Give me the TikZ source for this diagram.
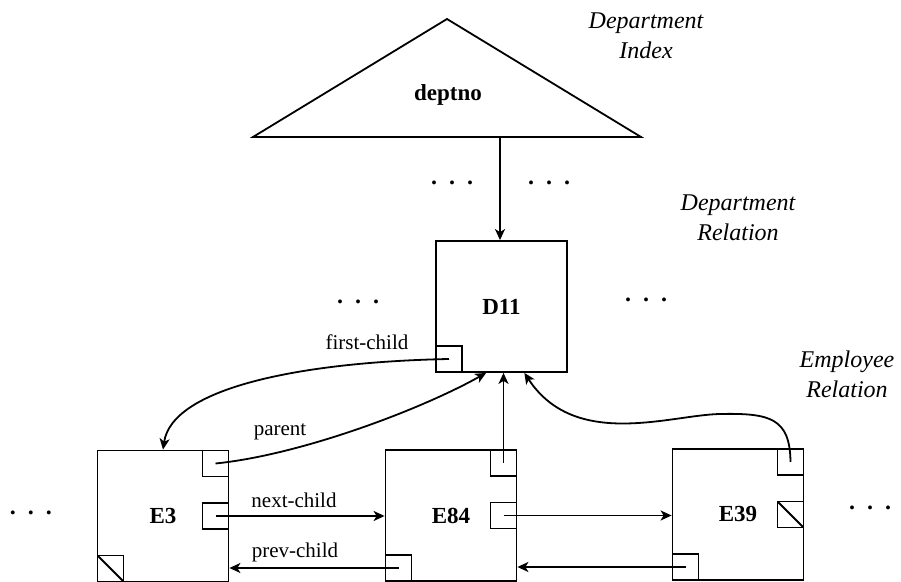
\documentclass[tikz,border=0pt]{standalone}
\usepackage{fontspec}
\setmainfont{Liberation Serif}
\usetikzlibrary{positioning, arrows.meta, calc}
\newcommand{\threedots}{.\hspace{6pt}.\hspace{6pt}.}

\begin{document}
\begin{tikzpicture}[
    x=0.5pt, y=-0.5pt,
    font=\fontsize{10.5}{12.6}\selectfont,
    line width=0.9pt,
    >={Stealth[length=5.5pt, width=5pt, inset=1.5pt]},
    record/.style={rectangle, draw, minimum width=65.5pt, minimum height=65.5pt, inner sep=0pt, font=\fontsize{11.5}{13}\selectfont\bfseries},
    slot/.style={rectangle, draw, minimum size=13pt, inner sep=0pt},
    nullslot/.style={slot, path picture={\draw (path picture bounding box.north west) -- (path picture bounding box.south east);}},
    caption/.style={align=center, font=\fontsize{12}{15}\selectfont\itshape},
    ellipsis/.style={anchor=base, inner sep=0pt, font=\fontsize{12}{14}\selectfont\bfseries},
    arrow/.style={->}
]
\useasboundingbox (0,0) rectangle (901,582);

% Index
\coordinate (idxleft) at (253,137);
\coordinate (idxapex) at (447,19);
\coordinate (idxright) at (641,137);
\coordinate (idxstem) at (500,137);
\draw (idxleft) -- (idxapex) -- (idxright) -- cycle;
\node[font=\fontsize{11.5}{13}\selectfont\bfseries] (deptno) at (448,95) {deptno};

% Nodes
\node[record] (d11) at (501.5,306.5) {D11};
\node[slot, anchor=south west] (d11first) at (d11.south west) {};

\node[record] (e3) at (163,516) {E3};
\node[slot, anchor=north east] (e3parent) at (e3.north east) {};
\node[slot, anchor=east] (e3next) at (e3.east) {};
\node[nullslot, anchor=south west] (e3prev) at (e3.south west) {};

\node[record] (e84) at (451,515.5) {E84};
\node[slot, anchor=north east] (e84parent) at (e84.north east) {};
\node[slot, anchor=east] (e84next) at (e84.east) {};
\node[slot, anchor=south west] (e84prev) at (e84.south west) {};

\node[record] (e39) at (738,514.5) {E39};
\node[slot, anchor=north east] (e39parent) at (e39.north east) {};
\node[nullslot, anchor=east] (e39next) at (e39.east) {};
\node[slot, anchor=south west] (e39prev) at (e39.south west) {};

% Captions
\node[caption] (capindex) at (646,35.5) {Department\\Index};
\node[caption] (capdept) at (738,217.5) {Department\\Relation};
\node[caption] (capemp) at (847,374) {Employee\\Relation};

% Ellipses
\node[ellipsis] (dotsa) at (452,184.5) {\threedots};
\node[ellipsis] (dotsb) at (549,184.5) {\threedots};
\node[ellipsis] (dotsc) at (358,303.5) {\threedots};
\node[ellipsis] (dotsd) at (646,301.5) {\threedots};
\node[ellipsis] (dotse) at (31,514.5) {\threedots};
\node[ellipsis] (dotsf) at (870,509.5) {\threedots};

% Labels
\node (lblfirst) at (367,342) {first-child};
\node (lblparent) at (280,432) {parent};
\node (lblnext) at (294,500) {next-child};
\node (lblprev) at (295,552) {prev-child};

% Connections
\draw[arrow] (idxstem) -- (idxstem |- d11.north);
\draw[arrow] (d11first.center) .. controls (300,362) and (172,388) .. (e3.north);
\draw[arrow] (e3parent.center) .. controls (300,455) and (420,410) .. (d11.-103);
\draw[arrow] (e84parent.center) -- (e84parent.center |- d11.south);
\coordinate (e39bend) at (720,414);
\draw[arrow] (e39parent.center) .. controls (790,418) and (770,413) .. (e39bend) .. controls (670,415) and (575,450) .. (d11.-71);

\draw[arrow] (e3next.center) -- (e3next.center -| e84.west);
\draw[arrow] (e84next.center) -- (e84next.center -| e39.west);
\draw[arrow] (e84prev.center) -- (e84prev.center -| e3.east);
\draw[arrow] (e39prev.center) -- (e39prev.center -| e84.east);

\end{tikzpicture}
\end{document}
